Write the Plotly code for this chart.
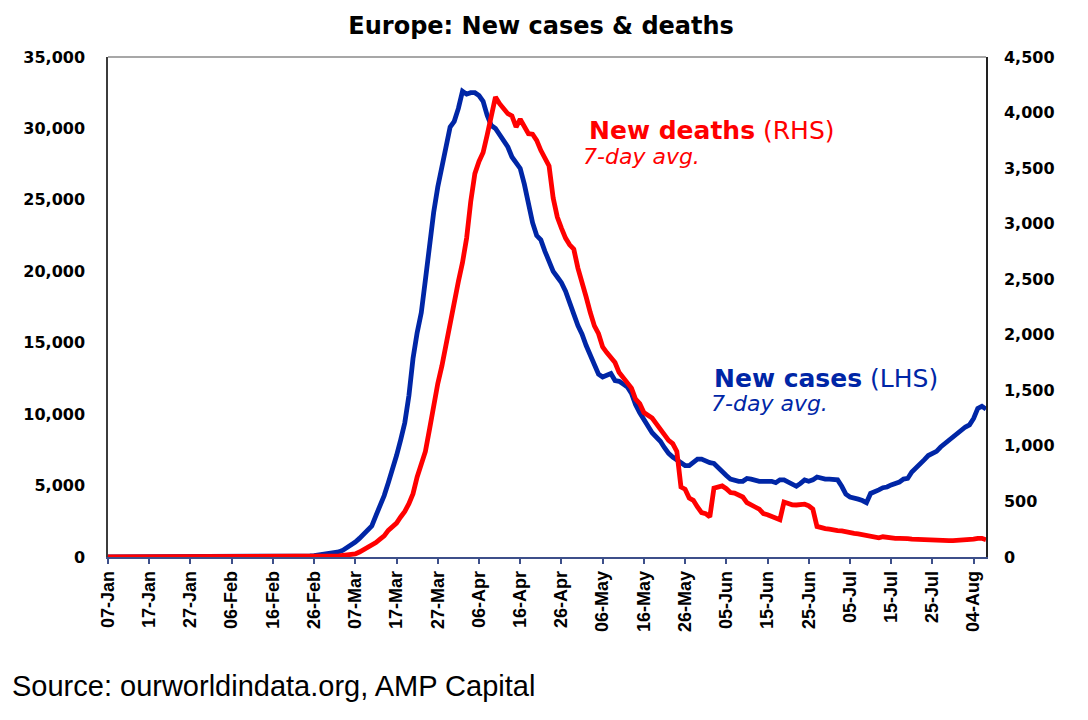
"""
Europe: new cases & deaths (7-day avg.), cases on the LHS, deaths on the RHS.
Daily values read off the reference chart, 07-Jan to 07-Aug 2020.
"""

import pandas as pd
import plotly.graph_objects as go

START = "2020-01-07"

# nuovi casi, media 7 giorni (LHS) - un valore al giorno da START
new_cases = [
    0, 0, 0, 0, 0, 0, 0, 0, 0, 0,
    0, 0, 0, 0, 0, 0, 0, 0, 0, 0,
    0, 0, 0, 0, 0, 0, 0, 0, 0, 0,
    0, 0, 0, 0, 0, 0, 0, 0, 0, 0,
    0, 0, 0, 0, 5, 10, 20, 40, 60, 80,
    100, 130, 170, 210, 240, 300, 360, 480, 640, 800,
    1050, 1300, 1580, 1850, 2180, 2900, 3550, 4300, 5200, 6050,
    7100, 8200, 9400, 11300, 13900, 15700, 17100, 19400, 22000, 24100,
    25900, 27400, 28800, 30100, 30500, 31400, 32600, 32400, 32500, 32500,
    32300, 31900, 30900, 30200, 30000, 29600, 29200, 28700, 28000, 27600,
    27200, 26100, 24800, 23400, 22500, 22200, 21400, 20700, 20000, 19600,
    19200, 18600, 17900, 17000, 16200, 15600, 14800, 14100, 13400, 12800,
    12600, 12700, 12850, 12350, 12300, 12100, 11900, 11450, 10650, 10100,
    9600, 9050, 8700, 8400, 8100, 7650, 7250, 7000, 6800, 6600,
    6400, 6400, 6600, 6850, 6850, 6700, 6600, 6550, 6250, 5900,
    5700, 5450, 5350, 5300, 5300, 5500, 5450, 5350, 5300, 5300,
    5300, 5300, 5200, 5400, 5400, 5250, 5100, 4950, 5150, 5400,
    5300, 5400, 5600, 5500, 5450, 5450, 5400, 5400, 4950, 4400,
    4200, 4150, 4050, 3950, 3800, 4450, 4550, 4700, 4850, 4900,
    5050, 5150, 5250, 5450, 5500, 5950, 6200, 6450, 6800, 7100,
    7250, 7400, 7700, 7950, 8150, 8400, 8650, 8950, 9100, 9250,
    9700, 10400, 10550, 10350,
]

# nuovi decessi, media 7 giorni (RHS)
new_deaths = [
    0, 0, 0, 0, 0, 0, 0, 0, 0, 0,
    0, 0, 0, 0, 0, 0, 0, 0, 0, 0,
    0, 0, 0, 0, 0, 0, 0, 0, 0, 0,
    0, 0, 0, 0, 0, 0, 0, 0, 0, 0,
    0, 0, 0, 0, 0, 1, 1, 1, 2, 2,
    2, 3, 4, 5, 6, 8, 10, 14, 18, 22,
    28, 45, 65, 90, 110, 130, 160, 190, 240, 275,
    305, 360, 410, 480, 570, 720, 830, 950, 1150, 1380,
    1560, 1720, 1920, 2120, 2300, 2480, 2650, 2870, 3200, 3450,
    3560, 3640, 3800, 3960, 4140, 4080, 4030, 3990, 3970, 3870,
    3940, 3880, 3810, 3805, 3750, 3660, 3580, 3520, 3230, 3060,
    2960, 2870, 2810, 2770, 2600, 2480, 2340, 2200, 2080, 2010,
    1890, 1840, 1800, 1750, 1660, 1610, 1570, 1520, 1420, 1380,
    1300, 1270, 1250, 1200, 1150, 1090, 1050, 1020, 950, 630,
    610, 530, 510, 450, 400, 390, 360, 620, 635, 640,
    615, 580, 575, 560, 540, 490, 475, 450, 430, 390,
    380, 365, 350, 335, 495, 480, 470, 468, 468, 475,
    460, 430, 275, 260, 255, 250, 240, 238, 235, 225,
    218, 212, 208, 200, 195, 188, 170, 172, 182, 175,
    170, 168, 168, 170, 166, 160, 158, 155, 150, 148,
    147, 147, 147, 147, 147, 148, 150, 158, 155, 153,
    160, 168, 168, 155,
]

dates = pd.date_range(START, periods=len(new_cases), freq="D")
tick_dates = pd.date_range(START, "2020-08-04", freq="10D")

BLUE = "#0026A6"
RED = "#FF0000"
NAVY = "#3d4f8a"
BOLD_FONT = "DejaVu Sans"

fig = go.Figure()

fig.add_trace(go.Scatter(x=dates, y=new_cases, mode="lines", name="New cases",
                         line=dict(color=BLUE, width=4.8), yaxis="y"))
fig.add_trace(go.Scatter(x=dates, y=new_deaths, mode="lines", name="New deaths",
                         line=dict(color=RED, width=4.8), yaxis="y2"))

# la pagina html ha 8px di margine del body: i margini ne tengono conto
fig.update_layout(
    width=1088, height=720,
    margin=dict(l=100, r=110, t=49, b=171),
    paper_bgcolor="white", plot_bgcolor="white",
    showlegend=False,
    title=dict(text="<b>Europe: New cases & deaths</b>", x=0.490, xref="container",
               y=0.976, yanchor="middle", xanchor="center",
               font=dict(family=BOLD_FONT, size=24, color="black")),
    xaxis=dict(
        type="date", range=[dates[0], dates[-1]],
        tickvals=tick_dates, tickformat="%d-%b", tickangle=-90,
        ticks="outside", ticklen=5, tickcolor=NAVY, tickwidth=1.5,
        showline=True, linecolor=NAVY, linewidth=1.5,
        showgrid=False, zeroline=False,
        tickfont=dict(family="Liberation Sans", size=18, color="black", weight="bold"),
    ),
    yaxis=dict(
        range=[0, 35000], dtick=5000, tickformat=",",
        showline=True, linecolor="#3c3c3c", linewidth=1.5,
        showgrid=False, zeroline=False, ticks="",
        ticklabelstandoff=18,
        tickfont=dict(family=BOLD_FONT, size=16, color="black", weight="bold"),
    ),
    yaxis2=dict(
        range=[0, 4500], dtick=500, tickformat=",",
        overlaying="y", side="right",
        showline=True, linecolor="#222222", linewidth=1.5,
        showgrid=False, zeroline=False, ticks="",
        ticklabelstandoff=13,
        tickfont=dict(family=BOLD_FONT, size=16, color="black", weight="bold"),
    ),
)

# bordo superiore grigio del riquadro
fig.add_shape(type="line", xref="paper", yref="paper", x0=0, x1=1, y0=1, y1=1,
              line=dict(color="#8a8a8a", width=1.5))

labels = [
    ("<b>New deaths</b> (RHS)", 0.546, 0.854, RED, 25),
    ("<i>7-day avg.</i>", 0.539, 0.800, RED, 22),
    ("<b>New cases</b> (LHS)", 0.688, 0.358, BLUE, 25),
    ("<i>7-day avg.</i>", 0.685, 0.308, BLUE, 22),
]
for text, x, y, color, size in labels:
    fig.add_annotation(text=text, xref="paper", yref="paper", x=x, y=y,
                       xanchor="left", yanchor="middle", showarrow=False,
                       font=dict(family=BOLD_FONT, size=size, color=color))

fig.add_annotation(text="Source: ourworldindata.org, AMP Capital",
                   xref="paper", yref="paper", x=-0.1116, y=-0.258,
                   xanchor="left", yanchor="middle", showarrow=False,
                   font=dict(family="Liberation Sans", size=29, color="black"))

fig.write_html("out.html")
